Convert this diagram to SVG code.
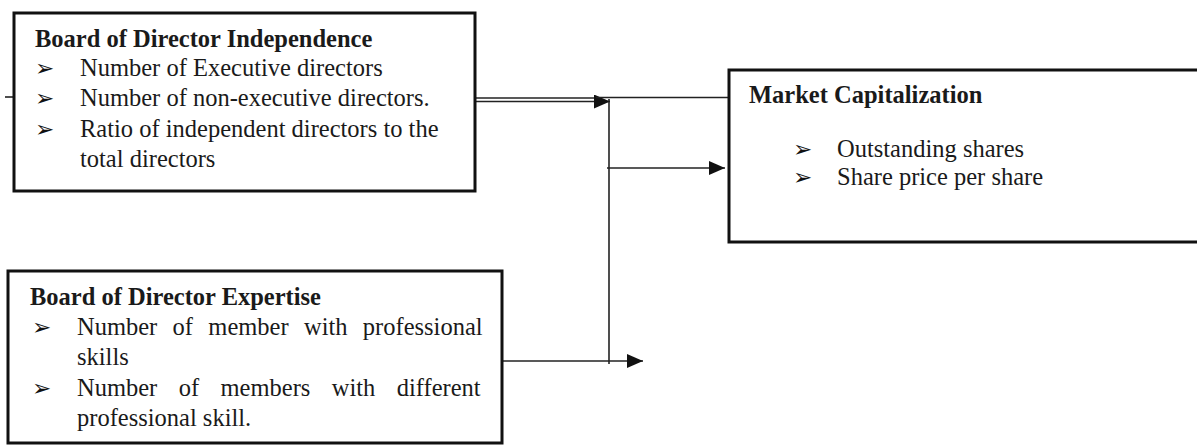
<svg xmlns="http://www.w3.org/2000/svg" width="1197" height="446" viewBox="0 0 1197 446">
<defs>
<style>
.box{fill:#fff;stroke:#111;stroke-width:3}
.t{font-family:"Liberation Serif","Times New Roman",serif;font-size:24.5px;fill:#1a1a1a}
.b{font-weight:bold}
.bul{font-family:"DejaVu Sans",sans-serif;font-size:23px;fill:#111}
.ln{stroke:#222;stroke-width:1.6;fill:none}
</style>
<marker id="ah" viewBox="0 0 16 14" refX="16" refY="7" markerWidth="16" markerHeight="14" markerUnits="userSpaceOnUse" orient="auto">
<path d="M0,0 L16,7 L0,14 Z" fill="#111"/>
</marker>
</defs>
<rect width="1197" height="446" fill="#fff"/>
<g id="connectors">
<line class="ln" x1="5" y1="97" x2="14" y2="97"/>
<line class="ln" x1="476" y1="98" x2="596" y2="98"/>
<line class="ln" x1="476" y1="101.5" x2="610" y2="101.5" marker-end="url(#ah)"/>
<line class="ln" x1="596" y1="97.5" x2="728" y2="97.5"/>
<line class="ln" x1="609" y1="99" x2="609" y2="364"/>
<line class="ln" x1="607" y1="168" x2="725" y2="168" marker-end="url(#ah)"/>
<line class="ln" x1="502" y1="361" x2="643" y2="361" marker-end="url(#ah)"/>
</g>
<g id="node-independence">
<rect class="box" x="14" y="13" width="461" height="178"/>
<text class="t b" x="35" y="47">Board of Director Independence</text>
<text class="bul" x="35" y="76">➢</text>
<text class="t" x="80" y="76">Number of Executive directors</text>
<text class="bul" x="35" y="106">➢</text>
<text class="t" x="80" y="106">Number of non-executive directors.</text>
<text class="bul" x="35" y="137">➢</text>
<text class="t" x="80" y="137">Ratio of independent directors to the</text>
<text class="t" x="80" y="167">total directors</text>
</g>
<g id="node-expertise">
<rect class="box" x="8" y="271" width="494" height="172"/>
<text class="t b" x="30" y="305">Board of Director Expertise</text>
<text class="bul" x="32" y="335">➢</text>
<text class="t" x="77" y="335" word-spacing="9.2">Number of member with professional</text>
<text class="t" x="77" y="365">skills</text>
<text class="bul" x="32" y="396">➢</text>
<text class="t" x="77" y="396" word-spacing="15.3">Number of members with different</text>
<text class="t" x="77" y="426">professional skill.</text>
</g>
<g id="node-market">
<rect class="box" x="729" y="70" width="475" height="172"/>
<text class="t b" x="749" y="103">Market Capitalization</text>
<text class="bul" x="793" y="157">➢</text>
<text class="t" x="837" y="157">Outstanding shares</text>
<text class="bul" x="793" y="185">➢</text>
<text class="t" x="837" y="185">Share price per share</text>
</g>
</svg>
